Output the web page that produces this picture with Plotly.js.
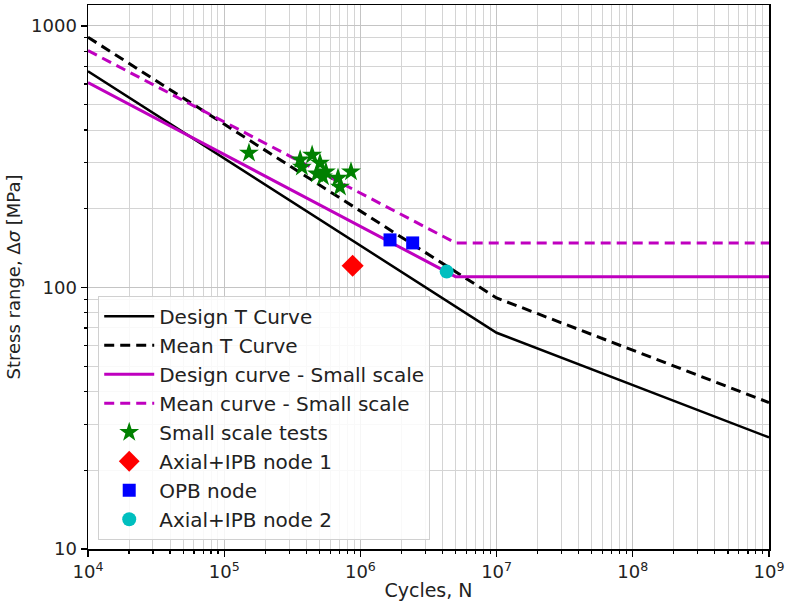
<!DOCTYPE html>
<html>
<head>
<meta charset="utf-8">
<script src="https://cdn.plot.ly/plotly-3.0.1.min.js"></script>
<style>html,body{margin:0;padding:0;background:#fff;}#chart{width:786px;height:603px;}</style>
</head>
<body>
<div id="chart"></div>
<script>
// Curves
var designT_N = [1e4, 1e7, 1e9];
var designT_S = [671, 67.1, 26.7];
var meanT_N = [1e4, 1e7, 1e9];
var meanT_S = [905, 91.2, 36.3];
var designSS_N = [1e4, 5e6, 1e9];
var designSS_S = [607, 110, 110];
var meanSS_N = [1e4, 5e6, 1e9];
var meanSS_S = [805, 148, 148];

// Test points
var smallTests_N = [1.52e5, 3.61e5, 4.42e5, 3.72e5, 5.05e5, 4.80e5, 5.31e5, 5.58e5, 6.85e5, 7.08e5, 8.53e5];
var smallTests_S = [327, 308, 321, 289, 299, 272, 265, 277, 262, 242, 277];
var node1_N = [8.77e5];
var node1_S = [121];
var opb_N = [1.65e6, 2.42e6];
var opb_S = [152, 148];
var node2_N = [4.3e6];
var node2_S = [115];

// Ticks
var xTickVals = [1e4, 1e5, 1e6, 1e7, 1e8, 1e9];
var xTickText = ['10<sup>4</sup>', '10<sup>5</sup>', '10<sup>6</sup>', '10<sup>7</sup>', '10<sup>8</sup>', '10<sup>9</sup>'];
var yTickVals = [10, 100, 1000];
var yTickText = ['10', '100', '1000'];

var traces = [
  {x: designT_N, y: designT_S, mode: 'lines', name: 'Design T Curve', legendgroup: 'a',
   line: {color: '#000000', width: 2.5}},
  {x: meanT_N, y: meanT_S, mode: 'lines', name: 'Mean T Curve', legendgroup: 'b',
   line: {color: '#000000', width: 3, dash: '10px,6px'}},
  {x: designSS_N, y: designSS_S, mode: 'lines', name: 'Design curve - Small scale', legendgroup: 'c',
   line: {color: '#bf00bf', width: 3}},
  {x: meanSS_N, y: meanSS_S, mode: 'lines', name: 'Mean curve - Small scale', legendgroup: 'd',
   line: {color: '#bf00bf', width: 3, dash: '10px,6px'}},
  {x: smallTests_N, y: smallTests_S, mode: 'markers', name: 'Small scale tests', legendgroup: 'e',
   marker: {symbol: 'star', color: '#008000', size: 15, line: {width: 0}}},
  {x: node1_N, y: node1_S, mode: 'markers', name: 'Axial+IPB node 1', legendgroup: 'f',
   marker: {symbol: 'diamond', color: '#ff0000', size: 17, line: {width: 0}}},
  {x: opb_N, y: opb_S, mode: 'markers', name: 'OPB node', legendgroup: 'g',
   marker: {symbol: 'square', color: '#0000ff', size: 13, line: {width: 0}}},
  {x: node2_N, y: node2_S, mode: 'markers', name: 'Axial+IPB node 2', legendgroup: 'h',
   marker: {symbol: 'circle', color: '#00bfbf', size: 14, line: {width: 0}}}
];

var axisCommon = {
  type: 'log',
  showline: true, linecolor: '#000', linewidth: 1.5, mirror: true,
  ticks: 'outside', ticklen: 6, tickwidth: 1.2, tickcolor: '#000',
  showgrid: true, gridcolor: '#c4c4c4', gridwidth: 1,
  zeroline: false,
  tickfont: {family: 'DejaVu Sans', size: 18, color: '#222'},
  minor: {dtick: 'D1', ticks: 'outside', ticklen: 3, tickcolor: '#000', showgrid: true, gridcolor: '#d4d4d4', gridwidth: 1}
};

var layout = {
  width: 786, height: 603,
  margin: {l: 88, r: 17, t: 5, b: 54},
  paper_bgcolor: '#fff', plot_bgcolor: '#fff',
  font: {family: 'DejaVu Sans', color: '#222'},
  showlegend: true,
  xaxis: Object.assign({}, axisCommon, {
    range: [4, 9],
    tickmode: 'array', tickvals: xTickVals, ticktext: xTickText,
    title: {text: 'Cycles, N', font: {family: 'DejaVu Sans', size: 19, color: '#222'}, standoff: 2}
  }),
  yaxis: Object.assign({}, axisCommon, {
    range: [1, 3.08],
    tickmode: 'array', tickvals: yTickVals, ticktext: yTickText,
    title: {text: 'Stress range, Δ<i>σ</i> [MPa]', font: {family: 'DejaVu Sans', size: 18, color: '#222'}, standoff: 6}
  }),
  legend: {
    x: 0.015, y: 0.017, xanchor: 'left', yanchor: 'bottom',
    bgcolor: 'rgba(255,255,255,0.85)', bordercolor: '#d0d0d0', borderwidth: 1,
    font: {family: 'DejaVu Sans', size: 20, color: '#222'},
    traceorder: 'grouped', tracegroupgap: 0, itemwidth: 50
  }
};

Plotly.newPlot('chart', traces, layout, {displayModeBar: false, staticPlot: true});
</script>
</body>
</html>
